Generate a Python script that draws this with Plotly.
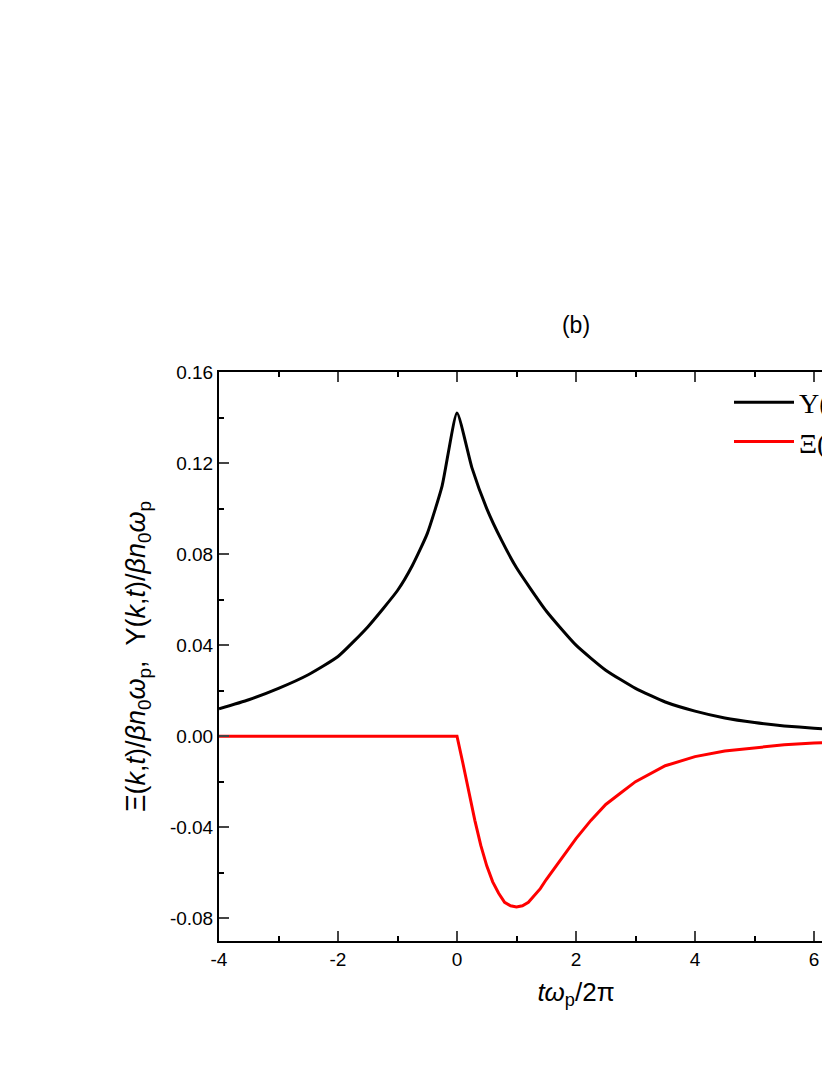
import plotly.graph_objects as go

t_up = [-4, -3.5, -3, -2.5, -2, -1.5, -1, -0.75, -0.5, -0.25, 0, 0.25, 0.5, 0.75, 1, 1.5, 2, 2.5, 3, 3.5, 4, 4.5, 5, 5.5, 6, 6.5, 7, 8]
upsilon = [0.012, 0.016, 0.021, 0.027, 0.035, 0.048, 0.064, 0.075, 0.089, 0.110, 0.142, 0.118, 0.100, 0.086, 0.074, 0.055, 0.040, 0.029, 0.021, 0.015, 0.011, 0.008, 0.006, 0.0045, 0.0035, 0.0028, 0.0022, 0.0015]

t_xi = [-4, -2, 0, 0.1, 0.2, 0.3, 0.4, 0.5, 0.6, 0.7, 0.8, 0.9, 1, 1.1, 1.2, 1.3, 1.4, 1.5, 1.75, 2, 2.25, 2.5, 2.75, 3, 3.5, 4, 4.5, 5, 5.5, 6, 6.5, 7, 8]
xi = [0, 0, 0, -0.012, -0.025, -0.037, -0.048, -0.057, -0.064, -0.069, -0.073, -0.0745, -0.075, -0.0745, -0.073, -0.070, -0.067, -0.063, -0.054, -0.045, -0.037, -0.030, -0.025, -0.020, -0.013, -0.009, -0.0065, -0.005, -0.0038, -0.003, -0.0024, -0.002, -0.0014]

xticks = [-4, -2, 0, 2, 4, 6, 8]
xticklabels = ["-4", "-2", "0", "2", "4", "6", "8"]
yticks = [-0.08, -0.04, 0, 0.04, 0.08, 0.12, 0.16]
yticklabels = ["-0.08", "-0.04", "0.00", "0.04", "0.08", "0.12", "0.16"]

fig = go.Figure()
fig.add_trace(go.Scatter(x=t_up, y=upsilon, mode="lines", line=dict(color="black", width=3, shape="spline", smoothing=0.5),
                         name="Υ(<i>k</i>,<i>t</i>)"))
fig.add_trace(go.Scatter(x=t_xi, y=xi, mode="lines", line=dict(color="red", width=3),
                         name="Ξ(<i>k</i>,<i>t</i>)"))

font = "Arial, Liberation Sans"
ax = dict(showline=True, linecolor="black", linewidth=2, mirror="ticks", ticks="inside", ticklen=10, tickwidth=2,
          showgrid=False, zeroline=False, tickfont=dict(size=19, family=font, color="black"),
          minor=dict(ticks="inside", ticklen=5, tickwidth=2, tickcolor="black"))
fig.update_layout(
    width=1000, height=1075, plot_bgcolor="white", paper_bgcolor="white",
    margin=dict(l=211, r=75, t=364, b=142),
    title=dict(text="(b)", x=0.5, xref="paper", y=1 - 317 / 1075, yanchor="middle",
               font=dict(size=23, family=font, color="black")),
    xaxis=dict(ax, range=[-4, 8], tickvals=xticks, ticktext=xticklabels, minor=dict(ax["minor"], dtick=1),
               title=dict(text="<i>tω</i><sub>p</sub>/2π", font=dict(size=26, family=font, color="black"), standoff=14)),
    yaxis=dict(ax, range=[-0.09, 0.16], tickvals=yticks, ticktext=yticklabels, minor=dict(ax["minor"], dtick=0.02),
               title=dict(text="Ξ(<i>k</i>,<i>t</i>)/<i>βn</i><sub>0</sub><i>ω</i><sub>p</sub>,  Υ(<i>k</i>,<i>t</i>)/<i>βn</i><sub>0</sub><i>ω</i><sub>p</sub>",
                          font=dict(size=27, family=font, color="black"), standoff=16)),
    legend=dict(x=(728 - 218) / 714, y=1 - (422 - 372) / 569, xanchor="left", yanchor="middle", bgcolor="rgba(0,0,0,0)",
                font=dict(size=28, family="Liberation Serif", color="black"), itemwidth=60, tracegroupgap=12),
    showlegend=True,
)
fig.write_html("out.html")
